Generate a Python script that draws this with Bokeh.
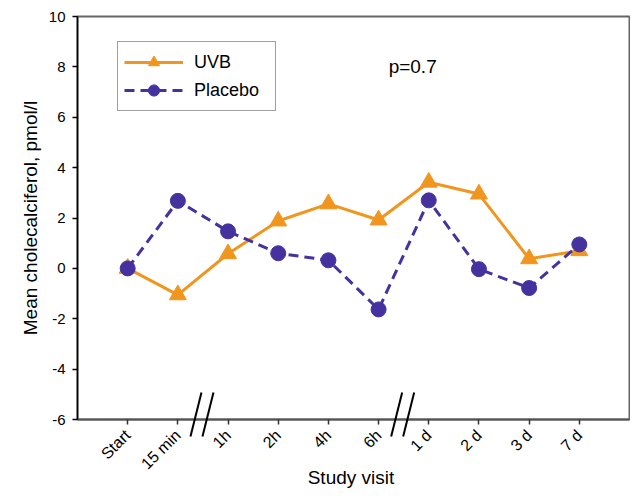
import math
from bokeh.plotting import figure
from bokeh.models import Range1d, FixedTicker, Legend, LegendItem, Label
from bokeh.core.properties import value
from bokeh.embed import file_html
from bokeh.resources import INLINE

# ---- data ----
visits = ["Start", "15 min", "1h", "2h", "4h", "6h", "1 d", "2 d", "3 d", "7 d"]
uvb = [0.0, -1.05, 0.58, 1.88, 2.56, 1.92, 3.42, 2.95, 0.38, 0.70]
placebo = [0.0, 2.68, 1.47, 0.60, 0.32, -1.63, 2.70, -0.03, -0.78, 0.95]
y_ticks = [-6, -4, -2, 0, 2, 4, 6, 8, 10]
breaks_after = [1, 5]   # axis breaks between 15 min/1h and 6h/1 d
p_text = "p=0.7"
x_title = "Study visit"
y_title = "Mean cholecalciferol, pmol/l"

FONT = "Liberation Sans"
ORANGE = "#F0961E"
PURPLE = "#46329F"

xs = list(range(len(visits)))
Y0, Y1 = -6, 10
X0, X1 = -1, len(visits)
W, H = 630, 493
BL, BR, BT, BB = 77, 1, 16, 74

p = figure(width=W, height=H, output_backend="svg", toolbar_location=None,
           x_range=Range1d(X0, X1), y_range=Range1d(Y0, Y1),
           min_border_left=BL, min_border_right=BR, min_border_top=BT,
           min_border_bottom=BB)
p.xgrid.visible = False
p.ygrid.visible = False
p.outline_line_color = "#666666"
p.outline_line_width = 2
p.background_fill_color = "white"
p.border_fill_color = "white"

# axes
xa = p.xaxis[0]
xa.ticker = FixedTicker(ticks=xs)
xa.major_label_overrides = {i: v for i, v in enumerate(visits)}
xa.major_label_orientation = math.pi / 4
xa.major_label_text_font = FONT
xa.major_label_text_font_size = "16px"
xa.major_label_text_color = "black"
xa.major_label_standoff = 8
xa.major_tick_in = 0
xa.major_tick_out = 5
xa.minor_tick_line_color = None
xa.axis_line_color = "#555555"
xa.axis_line_width = 2
xa.major_tick_line_color = "#333333"
xa.major_tick_line_width = 1.5

ya = p.yaxis[0]
ya.ticker = FixedTicker(ticks=y_ticks)
ya.major_label_overrides = {v: str(v) for v in y_ticks}
ya.major_label_text_font = FONT
ya.major_label_text_font_size = "15px"
ya.major_label_text_color = "black"
ya.major_label_standoff = 7
ya.major_tick_in = 0
ya.major_tick_out = 5
ya.minor_tick_line_color = None
ya.axis_line_color = "black"
ya.axis_line_width = 1.5
ya.major_tick_line_color = "black"
ya.major_tick_line_width = 1.5
ya.axis_label = y_title
ya.axis_label_text_font = FONT
ya.axis_label_text_font_style = "normal"
ya.axis_label_text_font_size = "19px"
ya.axis_label_text_color = "black"
ya.axis_label_standoff = 5

# approximate pixel sizes in data units (for decorations below the frame)
frame_w, frame_h = W - BL - BR, H - BT - BB
px = (X1 - X0) / frame_w
py = (Y1 - Y0) / frame_h

# x-axis title drawn as text just below the rotated tick labels
p.text(x=[(X0 + X1) / 2 - 0.05], y=[Y0 - 58 * py], text=[x_title],
       text_font=value(FONT), text_font_size="19px", text_color="black",
       text_align="center", text_baseline="middle", level="overlay")

# series
l1 = p.line(xs, uvb, line_color=ORANGE, line_width=3)
m1 = p.scatter(xs, uvb, marker="triangle", size=17, fill_color=ORANGE,
               line_color=ORANGE)
l2 = p.line(xs, placebo, line_color=PURPLE, line_width=3, line_dash="10 6")
m2 = p.scatter(xs, placebo, marker="circle", size=15, fill_color=PURPLE,
               line_color=PURPLE)

legend = Legend(items=[LegendItem(label="UVB", renderers=[l1, m1]),
                       LegendItem(label="Placebo", renderers=[l2, m2])],
                location=(40, frame_h - 27 - 68), orientation="vertical",
                padding=6, spacing=0, glyph_width=59, glyph_height=28,
                label_height=28, label_width=75, label_standoff=11,
                label_text_font=FONT, label_text_font_size="18px",
                label_text_color="black", label_text_baseline="middle",
                border_line_color="#404040", border_line_width=1.5,
                background_fill_color="white", background_fill_alpha=1,
                margin=0)
p.add_layout(legend)

p.add_layout(Label(x=5.2, y=8, text=p_text, text_font=FONT,
                   text_font_size="19px", text_baseline="middle",
                   text_color="black"))

# axis break marks "//"
x0s, x1s, y0s, y1s = [], [], [], []
for b in breaks_after:
    c = b + 0.5 - 1 * px
    for off in (-6, 6):
        x0s.append(c + (off - 5.5) * px)
        x1s.append(c + (off + 5.5) * px)
        y0s.append(Y0 - 17 * py)
        y1s.append(Y0 + 27 * py)
p.segment(x0s, y0s, x1s, y1s, line_color="black", line_width=2,
          level="overlay")

open("out.html", "w").write(file_html(p, INLINE))
